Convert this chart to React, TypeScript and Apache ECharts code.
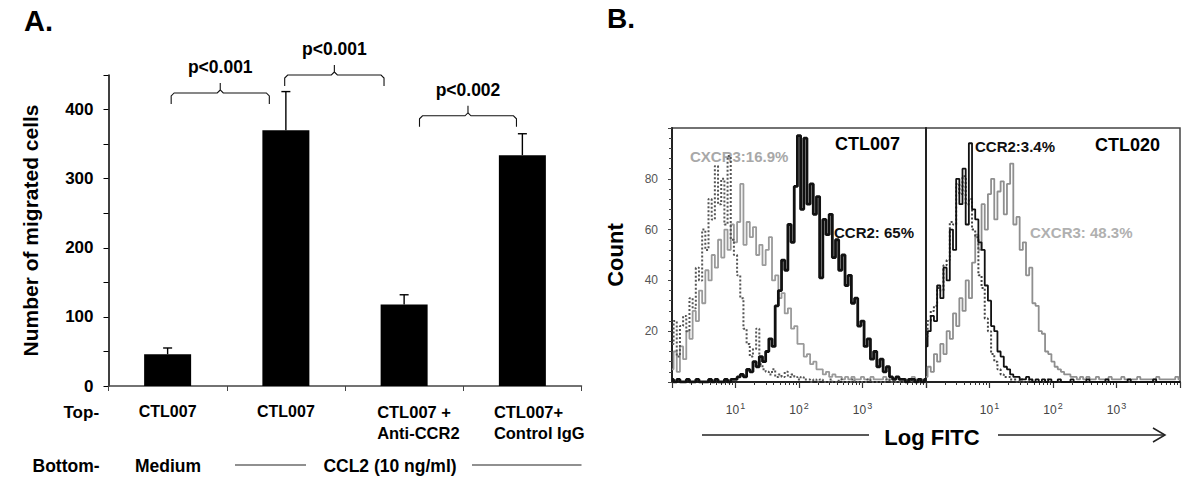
import React, { useEffect, useRef } from "react";
import * as echarts from "echarts";

// ---------------- Panel A data ----------------
const categories = ["CTL007", "CTL007", "CTL007 +\nAnti-CCR2", "CTL007+\nControl IgG"];
const migratedMean = [46, 370, 118, 334];
const migratedUpper = [55, 426, 132, 365];
const bottomLabels = ["Medium", "CCL2 (10 ng/ml)"];
const bracketStart = [0.03, 0.99, 2.13];
const bracketEnd = [0.86, 1.83, 2.95];
const bracketLevel = [424, 450, 391];
const bracketLabels = ["p<0.001", "p<0.001", "p<0.002"];

// ---------------- Panel B data ----------------
// log10(FITC) bin positions
const fitcBins = [
  0.0, 0.05, 0.1, 0.15, 0.2, 0.25, 0.3, 0.35, 0.4, 0.45,
  0.5, 0.55, 0.6, 0.65, 0.7, 0.75, 0.8, 0.85, 0.9, 0.95,
  1.0, 1.05, 1.1, 1.15, 1.2, 1.25, 1.3, 1.35, 1.4, 1.45,
  1.5, 1.55, 1.6, 1.65, 1.7, 1.75, 1.8, 1.85, 1.9, 1.95,
  2.0, 2.05, 2.1, 2.15, 2.2, 2.25, 2.3, 2.35, 2.4, 2.45,
  2.5, 2.55, 2.6, 2.65, 2.7, 2.75, 2.8, 2.85, 2.9, 2.95,
  3.0, 3.05, 3.1, 3.15, 3.2, 3.25, 3.3, 3.35, 3.4, 3.45,
  3.5, 3.55, 3.6, 3.65, 3.7, 3.75, 3.8, 3.85, 3.9, 3.95,
  4.0,
];
const ctl007Isotype = [
  15, 24, 10, 22, 26, 20, 33, 29, 45, 40,
  60, 52, 72, 64, 85, 70, 80, 62, 89, 56,
  50, 42, 33, 21, 15, 10, 13, 21, 7, 5,
  4, 3, 5, 2, 3, 2, 4, 2, 3, 2,
  1, 2, 1, 1, 0, 1, 0, 1, 0, 0,
  1, 0, 0, 1, 0, 0, 0, 1, 0, 0,
  0, 0, 1, 0, 0, 0, 0, 0, 1, 0,
  0, 0, 0, 0, 0, 1, 0, 0, 0, 0,
  0,
];
const ctl007Cxcr3 = [
  5, 12, 4, 14, 9, 20, 17, 28, 24, 36,
  31, 44, 40, 50, 45, 56, 49, 60, 52, 62,
  55, 63, 78, 54, 63, 57, 61, 50, 54, 46,
  52, 57, 40, 42, 33, 35, 27, 29, 21, 22,
  15, 15, 10, 11, 7, 8, 5, 5, 3, 4,
  2, 3, 2, 2, 1, 2, 1, 2, 1, 1,
  2, 1, 1, 2, 1, 1, 1, 2, 1, 1,
  1, 2, 1, 1, 1, 1, 2, 1, 1, 1,
  1,
];
const ctl007Ccr2 = [
  1, 0, 1, 0, 0, 1, 0, 0, 1, 0,
  0, 0, 1, 0, 1, 0, 0, 1, 0, 1,
  1, 2, 3, 2, 5, 4, 8, 6, 10, 8,
  12, 17, 14, 30, 36, 48, 44, 62, 55, 77,
  97, 68, 96, 70, 78, 66, 73, 41, 64, 58,
  66, 49, 56, 44, 50, 38, 42, 31, 33, 22,
  24, 14, 17, 9, 12, 6, 9, 4, 6, 2,
  1, 2, 1, 1, 0, 1, 1, 0, 1, 0,
  1,
];
const ctl020Isotype = [
  18, 24, 28, 30, 37, 36, 46, 48, 63, 62,
  78, 74, 81, 70, 72, 60, 57, 42, 37, 25,
  20, 11, 8, 5, 3, 2, 2, 1, 1, 0,
  1, 0, 0, 1, 0, 0, 0, 0, 1, 0,
  0, 0, 0, 0, 0, 0, 0, 0, 0, 0,
  0, 0, 0, 0, 0, 0, 0, 0, 0, 0,
  0, 0, 0, 0, 0, 0, 0, 0, 0, 0,
  0, 0, 0, 0, 0, 0, 0, 0, 0, 0,
  0,
];
const ctl020Ccr2 = [
  14, 20, 26, 24, 38, 33, 45, 40, 60, 52,
  80, 70, 84, 62, 94, 68, 64, 55, 52, 38,
  32, 22, 20, 12, 10, 6, 5, 3, 2, 2,
  1, 1, 2, 1, 0, 1, 0, 1, 0, 1,
  0, 0, 1, 0, 0, 0, 1, 0, 0, 0,
  0, 1, 0, 0, 0, 0, 0, 1, 0, 0,
  0, 0, 0, 0, 1, 0, 0, 0, 0, 0,
  0, 0, 1, 0, 0, 0, 0, 0, 0, 0,
  0,
];
const ctl020Cxcr3 = [
  2, 6, 4, 11, 8, 15, 11, 20, 17, 27,
  22, 33, 28, 40, 33, 47, 58, 52, 70, 60,
  74, 80, 64, 75, 79, 66, 78, 86, 62, 65,
  52, 55, 42, 45, 31, 30, 20, 19, 12, 11,
  8, 6, 5, 4, 3, 3, 2, 2, 1, 2,
  1, 2, 1, 1, 2, 1, 1, 1, 2, 1,
  1, 1, 2, 1, 1, 1, 1, 2, 1, 1,
  1, 1, 1, 2, 1, 1, 1, 1, 1, 2,
  1,
];
const countTicks = [20, 40, 60, 80];
const decadeLabels = [1, 2, 3];

const FONT = "'Liberation Sans', Arial, Helvetica, sans-serif";

export default function App() {
  const ref = useRef<HTMLDivElement>(null);

  useEffect(() => {
    if (!ref.current) return;
    const chart = echarts.init(ref.current, undefined, { renderer: "svg" });

    const labelShift = [0, 0, 42, 39];
    const catItems = categories.map((c, i) => ({
      value: c,
      textStyle: {
        fontSize: 16,
        fontWeight: "bold",
        fontFamily: FONT,
        color: "#000",
        lineHeight: 21,
        padding: [0, 0, 0, labelShift[i]],
      },
    }));

    const minorLog: number[] = [];
    for (let d = 0; d < 4; d++) {
      for (let k = 2; k <= 9; k++) minorLog.push(d + Math.log10(k));
    }

    const logAxisMajor = (gridIndex: number) => ({
      type: "value",
      gridIndex,
      min: 0,
      max: 4,
      interval: 1,
      position: "bottom",
      splitLine: { show: false },
      axisLine: { show: true, lineStyle: { color: "#222", width: 2 } },
      axisTick: { show: true, length: 6, customValues: [0, 1, 2, 3, 4], lineStyle: { color: "#333", width: 1.2 } },
      axisLabel: {
        show: true,
        customValues: decadeLabels,
        margin: 19,
        formatter: (v: number) => `{n|10}{s|${Math.round(v)}}`,
        rich: {
          n: { fontSize: 12, color: "#444", fontFamily: FONT },
          s: { fontSize: 9, color: "#444", fontFamily: FONT, padding: [0, 0, 8, 1] },
        },
      },
    });
    const logAxisMinor = (gridIndex: number) => ({
      type: "value",
      gridIndex,
      min: 0,
      max: 4,
      interval: 1,
      position: "bottom",
      splitLine: { show: false },
      axisLine: { show: false },
      axisTick: { show: true, length: 3, customValues: minorLog, lineStyle: { color: "#333", width: 1 } },
      axisLabel: { show: false },
    });

    const lineSeries = (
      name: string,
      xAxisIndex: number,
      yAxisIndex: number,
      values: number[],
      color: string,
      width: number,
      type: string
    ) => ({
      name,
      type: "line",
      xAxisIndex,
      yAxisIndex,
      step: "middle",
      symbol: "none",
      data: fitcBins.map((b, i) => [b, values[i]]),
      lineStyle: { color, width, type },
      z: 3,
    });

    const txt = (text: string, x: number, y: number, size: number, color = "#000", align = "left", weight = "bold") => ({
      type: "text",
      x,
      y,
      style: {
        text,
        fill: color,
        fontSize: size,
        fontWeight: weight,
        fontFamily: FONT,
        align,
        verticalAlign: "middle",
      },
    });
    const hline = (x1: number, x2: number, y: number, w = 1.2, c = "#222") => ({
      type: "line",
      shape: { x1, y1: y, x2, y2: y },
      style: { stroke: c, lineWidth: w },
    });

    const option: any = {
      animation: false,
      backgroundColor: "#fff",
      textStyle: { fontFamily: FONT },
      grid: [
        { left: 108.5, top: 75, width: 473, height: 311 },
        { left: 672, top: 128, width: 254, height: 254, show: true, borderColor: "#444", borderWidth: 1.5 },
        { left: 926, top: 128, width: 254, height: 254, show: true, borderColor: "#444", borderWidth: 1.5 },
      ],
      xAxis: [
        {
          type: "category",
          gridIndex: 0,
          data: catItems,
          axisLine: { lineStyle: { color: "#444", width: 1.5 } },
          axisTick: { show: true, alignWithLabel: false, length: 5, lineStyle: { color: "#444" } },
          axisLabel: {
            margin: 15,
            color: "#000",
            fontSize: 16,
            fontWeight: "bold",
            fontFamily: FONT,
            lineHeight: 21,
            interval: 0,
            formatter: (v: string) =>
              v.includes("\n") ? v.split("\n").map((s) => `{w|${s}}`).join("\n") : `{c|${v}}`,
            rich: {
              w: { width: 96, align: "left", fontSize: 16.5, fontWeight: "bold", fontFamily: FONT, lineHeight: 21, color: "#000" },
              c: { fontSize: 16, fontWeight: "bold", fontFamily: FONT, lineHeight: 21, color: "#000" },
            },
          },
        },
        logAxisMajor(1),
        logAxisMinor(1),
        logAxisMajor(2),
        logAxisMinor(2),
      ],
      yAxis: [
        {
          type: "value",
          gridIndex: 0,
          min: 0,
          max: 450,
          interval: 50,
          splitLine: { show: false },
          axisLine: { show: true, lineStyle: { color: "#000", width: 1.5 } },
          axisTick: { show: true, length: 5, lineStyle: { color: "#000" } },
          axisLabel: {
            margin: 15,
            color: "#000",
            fontSize: 17,
            fontWeight: "bold",
            fontFamily: FONT,
            formatter: (v: number) => (v % 100 === 0 && v <= 400 ? `{t|${v}}` : ""),
            rich: {
              t: { fontSize: 17, fontWeight: "bold", fontFamily: FONT, color: "#000" },
            },
          },
          name: "Number of migrated cells",
          nameLocation: "middle",
          nameGap: 68,
          nameTextStyle: { fontSize: 21, fontWeight: "bold", color: "#000", fontFamily: FONT },
        },
        {
          type: "value",
          gridIndex: 1,
          min: 0,
          max: 100,
          interval: 20,
          splitLine: { show: false },
          axisLine: { show: true, lineStyle: { color: "#222", width: 2 } },
          axisTick: { show: true, length: 4, lineStyle: { color: "#444" } },
          minorTick: { show: true, splitNumber: 5, length: 3, lineStyle: { color: "#444" } },
          minorSplitLine: { show: false },
          axisLabel: {
            margin: 14,
            color: "#555",
            fontSize: 12,
            fontFamily: FONT,
            formatter: (v: number) => (countTicks.includes(v) ? `{g|${v}}` : ""),
            rich: { g: { fontSize: 12, color: "#555", fontFamily: FONT } },
          },
          name: "Count",
          nameLocation: "middle",
          nameGap: 46,
          nameTextStyle: { fontSize: 22, fontWeight: "bold", color: "#000", fontFamily: FONT },
        },
        {
          type: "value",
          gridIndex: 2,
          min: 0,
          max: 100,
          interval: 20,
          splitLine: { show: false },
          axisLine: { show: true, lineStyle: { color: "#222", width: 2 } },
          axisTick: { show: false },
          axisLabel: { show: false },
        },
      ],
      series: [
        {
          type: "bar",
          xAxisIndex: 0,
          yAxisIndex: 0,
          data: migratedMean,
          barWidth: 47,
          itemStyle: { color: "#000" },
          z: 2,
        },
        {
          type: "custom",
          xAxisIndex: 0,
          yAxisIndex: 0,
          clip: false,
          z: 3,
          data: migratedMean.map((m, i) => [i, m, migratedUpper[i]]),
          encode: { x: 0, y: 1 },
          renderItem: (params: any, api: any) => {
            const p0 = api.coord([api.value(0), api.value(1)]);
            const p1 = api.coord([api.value(0), api.value(2)]);
            const st = { stroke: "#000", lineWidth: 1.4 };
            return {
              type: "group",
              children: [
                { type: "line", shape: { x1: p0[0], y1: p0[1], x2: p1[0], y2: p1[1] }, style: st },
                { type: "line", shape: { x1: p1[0] - 4.5, y1: p1[1], x2: p1[0] + 4.5, y2: p1[1] }, style: st },
              ],
            };
          },
        },
        {
          type: "custom",
          xAxisIndex: 0,
          yAxisIndex: 0,
          clip: false,
          z: 3,
          data: bracketLevel.map((lv, i) => [0, lv, bracketStart[i], bracketEnd[i], i]),
          encode: { x: 0, y: 1 },
          renderItem: (params: any, api: any) => {
            const idx = params.dataIndex;
            const base = api.coord([0, api.value(1)]);
            const band = api.size([1, 0])[0];
            const y = base[1];
            const xa = base[0] + api.value(2) * band;
            const xb = base[0] + api.value(3) * band;
            const xm = (xa + xb) / 2;
            const st = { stroke: "#111", lineWidth: 1.1, fill: null };
            return {
              type: "group",
              children: [
                {
                  type: "polyline",
                  shape: { points: [[xa, y + 11], [xa, y + 3], [xa + 3, y], [xm - 3, y], [xm, y - 3], [xm, y - 10]] },
                  style: st,
                },
                {
                  type: "polyline",
                  shape: { points: [[xm, y - 3], [xm + 3, y], [xb - 3, y], [xb, y + 3], [xb, y + 11]] },
                  style: st,
                },
                {
                  type: "text",
                  x: xm,
                  y: y - 26,
                  style: {
                    text: bracketLabels[idx],
                    fill: "#000",
                    fontSize: 17.5,
                    fontWeight: "bold",
                    fontFamily: FONT,
                    align: "center",
                    verticalAlign: "middle",
                  },
                },
              ],
            };
          },
        },
        lineSeries("CTL007 CXCR3", 1, 1, ctl007Cxcr3, "#9a9a9a", 1.8, "solid"),
        lineSeries("CTL007 isotype", 1, 1, ctl007Isotype, "#555", 2, "dotted"),
        lineSeries("CTL007 CCR2", 1, 1, ctl007Ccr2, "#111", 2.8, "solid"),
        lineSeries("CTL020 CXCR3", 3, 2, ctl020Cxcr3, "#8f8f8f", 1.8, "solid"),
        lineSeries("CTL020 isotype", 3, 2, ctl020Isotype, "#444", 2, "dotted"),
        lineSeries("CTL020 CCR2", 3, 2, ctl020Ccr2, "#111", 1.8, "solid"),
      ],
      graphic: {
        elements: [
          txt("A.", 24, 21, 29),
          txt("B.", 607, 18, 28),
          txt("Top-", 63.5, 412, 17),
          txt("Bottom-", 32.5, 465.5, 17.5),
          txt(bottomLabels[0], 168, 465.5, 17.5, "#000", "center"),
          hline(235, 306, 465),
          txt(bottomLabels[1], 390, 465.5, 17.5, "#000", "center"),
          hline(472, 581.5, 465),
          txt("CTL007", 835, 144, 18),
          txt("CTL020", 1095, 145, 18),
          txt("CXCR3:16.9%", 690, 156, 15, "#a8a8a8"),
          txt("CCR2: 65%", 834, 232, 15, "#111"),
          txt("CCR2:3.4%", 975, 146, 15, "#111"),
          txt("CXCR3: 48.3%", 1030, 232, 15, "#b0b0b0"),
          txt("Log FITC", 932, 437, 22, "#000", "center"),
          hline(702, 869, 435, 1.3),
          hline(998, 1164, 435, 1.3),
          {
            type: "polyline",
            shape: { points: [[1153, 428], [1165, 435], [1153, 442]] },
            style: { stroke: "#222", lineWidth: 1.5, fill: null },
          },
        ],
      },
    };

    chart.setOption(option);
    return () => chart.dispose();
  }, []);

  return (
    <div
      ref={ref}
      style={{ position: "absolute", left: 0, top: 0, width: 1200, height: 484, background: "#fff" }}
    />
  );
}
